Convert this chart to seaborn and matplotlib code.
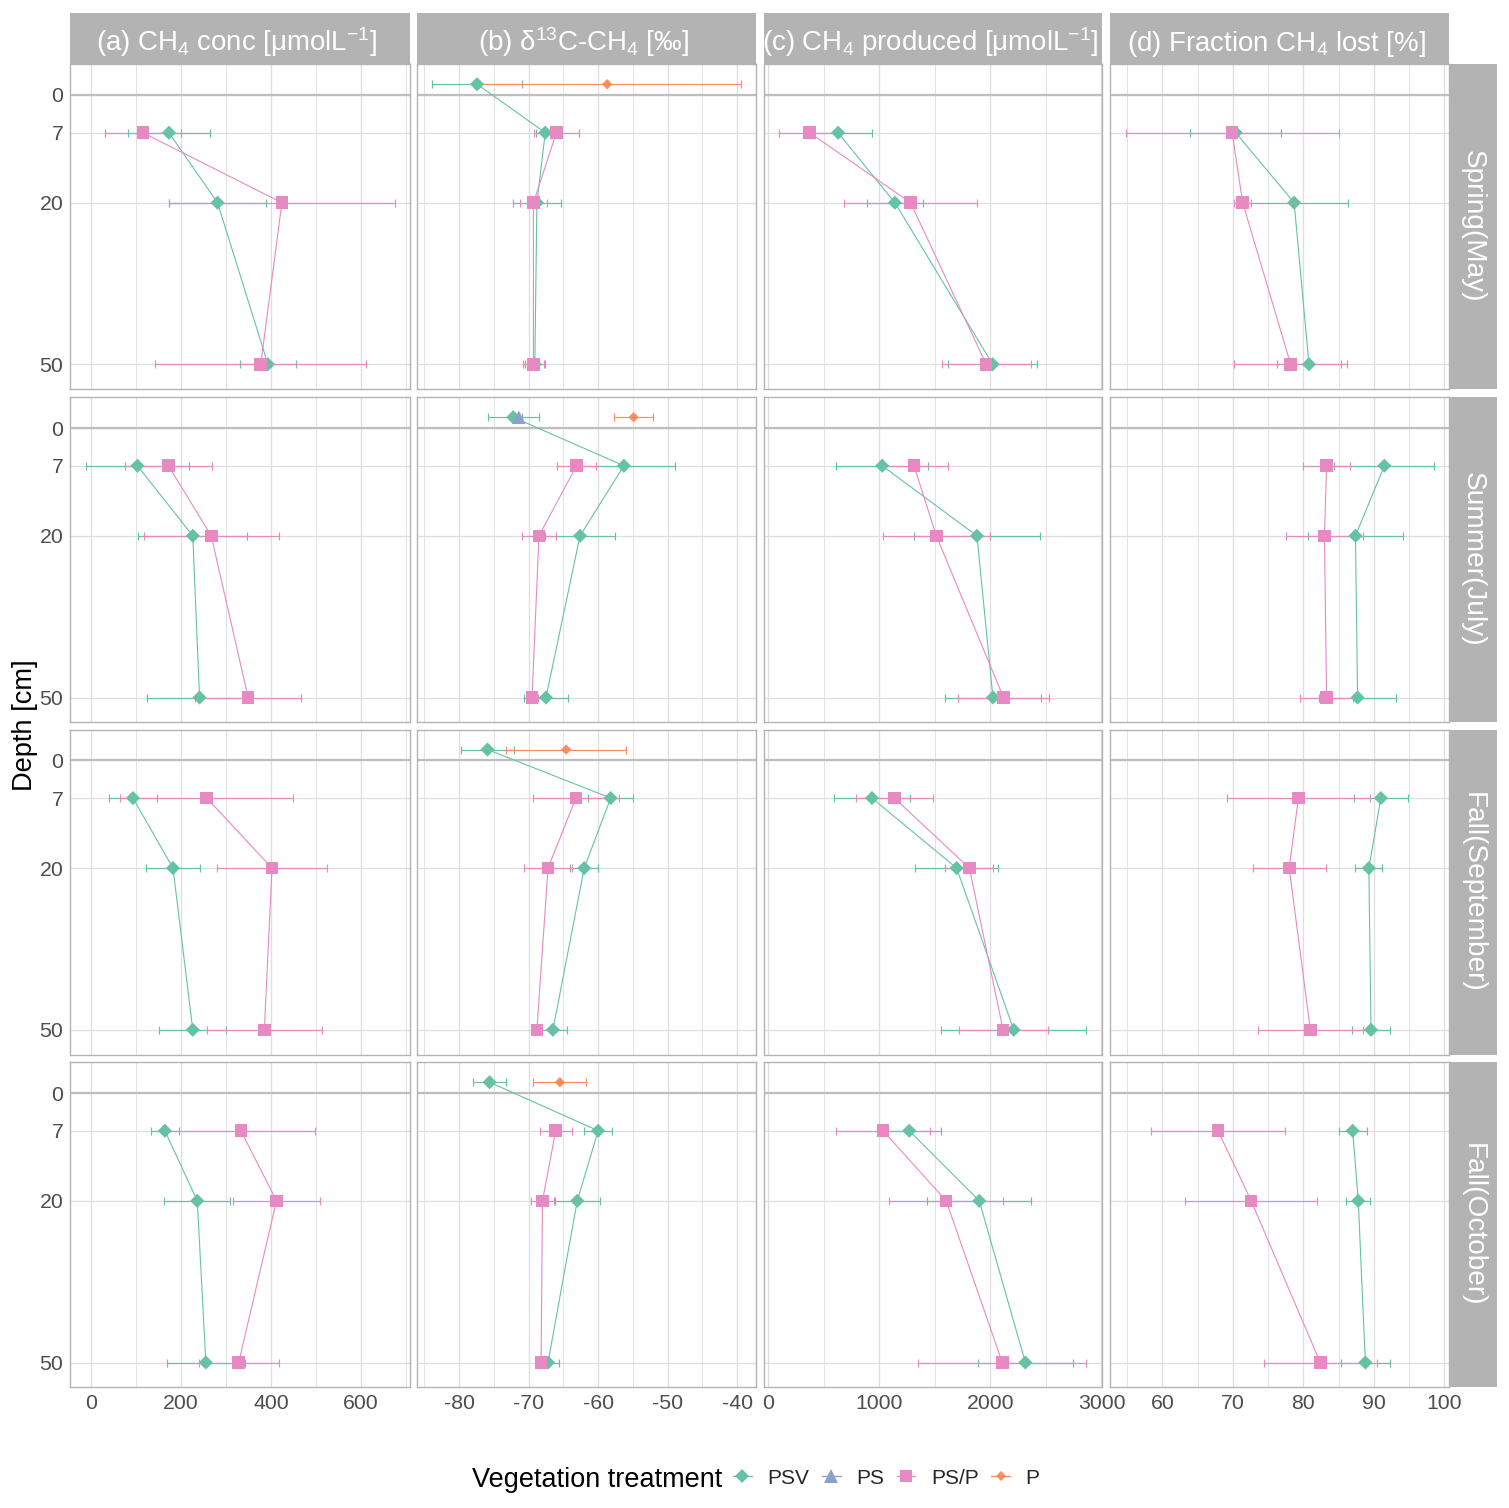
import numpy as np
import pandas as pd
import matplotlib
matplotlib.use("Agg")
import matplotlib.pyplot as plt
import seaborn as sns
from matplotlib.lines import Line2D
from matplotlib.patches import Rectangle

# ---- data ----
seasons = ["Spring(May)", "Summer(July)", "Fall(September)", "Fall(October)"]
depths = [7, 20, 50]
surface_depth = -2
treatments = ["PSV", "PS", "PS/P", "P"]
panel_titles = [
    "(a) CH$_4$ conc [μmolL$^{-1}$]",
    "(b) δ$^{13}$C-CH$_4$ [‰]",
    "(c) CH$_4$ produced [μmolL$^{-1}$]",
    "(d) Fraction CH$_4$ lost [%]",
]

# (a) CH4 concentration, rows = seasons, cols = depths
conc_psv = [[173, 281, 393], [103, 226, 241], [93, 182, 226], [164, 236, 255]]
conc_psv_se = [[91, 108, 63], [114, 121, 116], [54, 61, 74], [31, 73, 86]]
conc_psp = [[115, 424, 377], [172, 267, 349], [257, 402, 385], [333, 412, 328]]
conc_psp_se = [[85, 251, 235], [96, 150, 118], [192, 123, 128], [165, 96, 89]]

# (b) d13C-CH4
d13c_psv = [[-67.6, -68.8, -69.1], [-56.3, -62.6, -67.5], [-58.2, -62.0, -66.5], [-60.0, -63.0, -67.2]]
d13c_psv_se = [[1.4, 3.4, 1.4], [7.4, 5.0, 3.1], [3.2, 2.0, 2.0], [2.0, 3.2, 1.6]]
d13c_psp = [[-66.0, -69.3, -69.3], [-63.1, -68.5, -69.5], [-63.2, -67.2, -68.8], [-66.1, -68.0, -68.2]]
d13c_psp_se = [[3.2, 2.0, 1.5], [2.8, 2.5, 0.8], [6.2, 3.5, 0.5], [2.3, 1.6, 0.5]]
# surface (above 0) values for d13C
d13c_surf_psv = [-77.4, -72.2, -75.9, -75.6]
d13c_surf_psv_se = [6.5, 3.7, 3.8, 2.4]
d13c_surf_ps = [np.nan, -71.4, np.nan, np.nan]
d13c_surf_ps_se = [np.nan, 0.5, np.nan, np.nan]
d13c_surf_p = [-58.7, -54.9, -64.6, -65.5]
d13c_surf_p_se = [19.2, 2.8, 8.6, 3.8]

# (c) CH4 produced
prod_psv = [[628, 1140, 2020], [1025, 1879, 2023], [933, 1696, 2210], [1269, 1900, 2315]]
prod_psv_se = [[305, 251, 398], [415, 567, 431], [345, 375, 654], [287, 470, 427]]
prod_psp = [[371, 1281, 1962], [1312, 1513, 2118], [1135, 1811, 2114], [1033, 1602, 2107]]
prod_psp_se = [[271, 601, 401], [305, 484, 410], [346, 216, 401], [427, 512, 757]]

# (d) fraction CH4 lost
lost_psv = [[70.4, 78.7, 80.8], [91.5, 87.4, 87.7], [91.0, 89.3, 89.6], [87.0, 87.8, 88.8]]
lost_psv_se = [[6.5, 7.7, 4.5], [7.1, 6.8, 5.5], [3.8, 1.9, 2.7], [2.0, 1.7, 3.5]]
lost_psp = [[69.9, 71.4, 78.2], [83.3, 83.0, 83.3], [79.3, 78.0, 81.0], [67.9, 72.6, 82.4]]
lost_psp_se = [[15.1, 1.2, 8.0], [3.3, 5.4, 3.7], [10.1, 5.2, 7.5], [9.5, 9.4, 8.0]]

# ---- long table ----
variables = ["conc", "d13c", "prod", "lost"]
profile = {
    "conc": [("PSV", conc_psv, conc_psv_se), ("PS/P", conc_psp, conc_psp_se)],
    "d13c": [("PSV", d13c_psv, d13c_psv_se), ("PS/P", d13c_psp, d13c_psp_se)],
    "prod": [("PSV", prod_psv, prod_psv_se), ("PS/P", prod_psp, prod_psp_se)],
    "lost": [("PSV", lost_psv, lost_psv_se), ("PS/P", lost_psp, lost_psp_se)],
}
surface = [("PSV", d13c_surf_psv, d13c_surf_psv_se),
           ("PS", d13c_surf_ps, d13c_surf_ps_se),
           ("P", d13c_surf_p, d13c_surf_p_se)]

rows = []
for var in variables:
    for si, season in enumerate(seasons):
        if var == "d13c":
            for t, vals, ses in surface:
                if not np.isnan(vals[si]):
                    rows.append(dict(var=var, season=season, treatment=t,
                                     depth=surface_depth, value=vals[si], se=ses[si]))
        for t, vals, ses in profile[var]:
            for di, d in enumerate(depths):
                rows.append(dict(var=var, season=season, treatment=t,
                                 depth=d, value=vals[si][di], se=ses[si][di]))
df = pd.DataFrame(rows)
df["order"] = df["treatment"].map({t: i for i, t in enumerate(treatments)})
df = df.sort_values(["order", "depth"], kind="stable")

# ---- style ----
sns.set_theme(style="white")
plt.rcParams["font.family"] = ["Liberation Sans", "DejaVu Sans"]
plt.rcParams["mathtext.fontset"] = "custom"
plt.rcParams["mathtext.rm"] = "Liberation Sans"
plt.rcParams["mathtext.it"] = "Liberation Sans:italic"
plt.rcParams["mathtext.bf"] = "Liberation Sans:bold"

palette = {"PSV": "#66C2A5", "PS": "#8DA0CB", "PS/P": "#E78AC3", "P": "#FC8D62"}
markers = {"PSV": "D", "PS": "^", "PS/P": "s", "P": "D"}
sizes = {"PSV": 52, "PS": 95, "PS/P": 82, "P": 28}

xlims = [(-46.2, 707.8), (-86.05, -37.35), (-43, 3009), (52.6, 100.6)]
xmajor = [[0, 200, 400, 600], [-80, -70, -60, -50, -40], [0, 1000, 2000, 3000], [60, 70, 80, 90, 100]]
xminor = [[100, 300, 500, 700], [-85, -75, -65, -55, -45], [500, 1500, 2500], [55, 65, 75, 85, 95]]

W, H = 1509, 1508
fig = plt.figure(figsize=(W / 100, H / 100), dpi=100)
col_x = [(70.3, 409.6), (416.9, 755.7), (763.6, 1102.4), (1110.2, 1448.5)]
row_y = [(64.3, 389.0), (397.3, 722.3), (729.6, 1054.6), (1062.3, 1387.3)]
strip_col = "#B3B3B3"
grid_col = "#DEDEDE"


def fig_rect(x0, y0, x1, y1):
    return [x0 / W, 1 - y1 / H, (x1 - x0) / W, (y1 - y0) / H]


for r, season in enumerate(seasons):
    for c, var in enumerate(variables):
        x0, x1 = col_x[c]
        y0, y1 = row_y[r]
        ax = fig.add_axes(fig_rect(x0, y0, x1, y1))
        sub = df[(df["var"] == var) & (df["season"] == season)]

        for t in treatments:
            g = sub[sub["treatment"] == t]
            if len(g) == 0:
                continue
            ax.errorbar(g["value"], g["depth"], xerr=g["se"], fmt="none",
                        ecolor=palette[t], elinewidth=0.85, capsize=3, capthick=0.85, zorder=2)

        lines = sub[sub["treatment"].isin(["PSV", "PS/P"])]
        sns.lineplot(data=lines, x="value", y="depth", hue="treatment", palette=palette,
                     estimator=None, sort=False, legend=False, ax=ax,
                     linewidth=0.8, zorder=3)
        sns.scatterplot(data=sub, x="value", y="depth", hue="treatment", style="treatment",
                        size="treatment", palette=palette, markers=markers, sizes=sizes,
                        linewidth=0, legend=False, ax=ax, zorder=4)

        ax.axhline(0, color="#BEBEBE", lw=1.6, zorder=1.5)
        ax.set_xlim(*xlims[c])
        ax.set_ylim(54.6, -5.7)
        ax.set_xticks(xmajor[c])
        ax.set_xticks(xminor[c], minor=True)
        ax.set_yticks([0, 7, 20, 50])
        ax.set_axisbelow(True)
        ax.grid(which="major", color=grid_col, lw=0.9)
        ax.grid(which="minor", axis="x", color=grid_col, lw=0.6)
        ax.set_xlabel("")
        ax.set_ylabel("")
        for s in ax.spines.values():
            s.set_color(strip_col)
            s.set_linewidth(1.0)
        ax.tick_params(which="minor", length=0)
        ax.tick_params(axis="x", which="major", labelbottom=(r == 3),
                       length=3 if r == 3 else 0, color=strip_col,
                       labelsize=15.3, labelcolor="#4D4D4D", pad=2)
        ax.tick_params(axis="y", which="major", labelleft=(c == 0),
                       length=3 if c == 0 else 0, color=strip_col,
                       labelsize=15.3, labelcolor="#4D4D4D", pad=2)
        ax.set_yticklabels(["0", "7", "20", "50"])
        ax.set_xticklabels([str(v) for v in xmajor[c]])

# top strips
for c, title in enumerate(panel_titles):
    x0, x1 = col_x[c]
    fig.add_artist(Rectangle((x0 / W, 1 - 64.3 / H), (x1 - x0) / W, 51 / H,
                             transform=fig.transFigure, facecolor=strip_col,
                             edgecolor="none"))
    fig.text((x0 + x1) / 2 / W - 3 / W, 1 - 51 / H, title, ha="center", va="baseline",
             fontsize=19.9, color="white")

# right strips
for r, season in enumerate(seasons):
    y0, y1 = row_y[r]
    fig.add_artist(Rectangle((1449.5 / W, 1 - y1 / H), 47 / W, (y1 - y0) / H,
                             transform=fig.transFigure, facecolor=strip_col,
                             edgecolor="none"))
    fig.text(1473 / W, 1 - (y0 + y1) / 2 / H, season, ha="center", va="center",
             rotation=-90, fontsize=20.2, color="white")

fig.text(25 / W, 1 - 725.5 / H, "Depth [cm]", rotation=90, ha="center", va="center",
         fontsize=19.6, color="black")

# legend
fig.text(472 / W, 1 - 1480 / H, "Vegetation treatment", ha="left", va="center",
         fontsize=19.5, color="black")
handles = [Line2D([], [], color=palette[t], marker=markers[t], lw=1.0,
                  markersize={"PSV": 7.0, "PS": 9.5, "PS/P": 8.5, "P": 5.4}[t],
                  markeredgewidth=0)
           for t in treatments]
fig.legend(handles, treatments, loc="center left", bbox_to_anchor=(733 / W, 1 - 1478 / H),
           ncol=4, frameon=False, fontsize=15.0, handlelength=0.9, handletextpad=0.75,
           columnspacing=0.6, borderpad=0, borderaxespad=0)

fig.savefig("out.png", dpi=100, facecolor="white")
